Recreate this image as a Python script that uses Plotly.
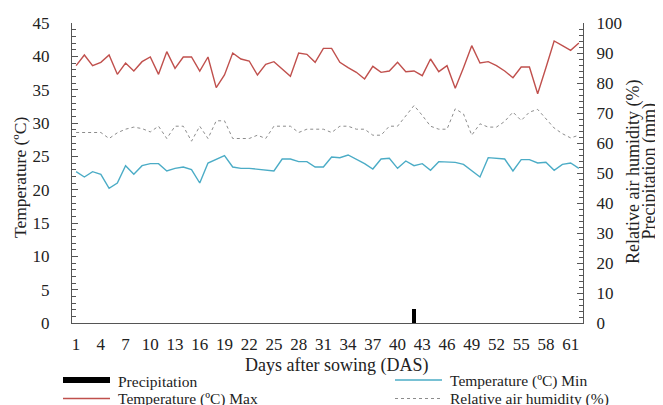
import plotly.graph_objects as go

days = list(range(1, 63))
temp_max = [38.6, 40.2, 38.6, 39.1, 40.2, 37.3, 39.0, 37.8, 39.2, 39.9,
            37.3, 40.7, 38.2, 39.9, 39.9, 37.8, 39.9, 35.3, 37.2, 40.5,
            39.6, 39.3, 37.2, 38.8, 39.2, 38.1, 37.0, 40.5, 40.3, 39.1,
            41.2, 41.2, 39.1, 38.3, 37.6, 36.6, 38.5, 37.6, 37.8, 39.1,
            37.7, 37.8, 37.1, 39.6, 37.7, 38.6, 35.2, 38.3, 41.6, 39.0,
            39.2, 38.6, 37.8, 36.8, 38.4, 38.4, 34.4, 38.3, 42.3, 41.6,
            40.9, 42.0]
temp_min = [22.7, 21.9, 22.7, 22.3, 20.2, 21.0, 23.6, 22.3, 23.6, 23.9,
            23.9, 22.8, 23.2, 23.4, 23.0, 21.0, 24.0, 24.6, 25.1, 23.4,
            23.2, 23.2, 23.1, 23.0, 22.8, 24.6, 24.6, 24.2, 24.2, 23.4,
            23.4, 24.9, 24.8, 25.2, 24.6, 23.9, 23.1, 24.6, 24.7, 23.2,
            24.3, 23.6, 23.9, 22.9, 24.2, 24.1, 24.1, 23.8, 22.9, 21.9,
            24.8, 24.7, 24.6, 22.8, 24.5, 24.5, 24.0, 24.1, 22.9, 23.8,
            24.0, 23.2]
humidity = [63.5, 63.5, 63.5, 63.5, 61.5, 63.4, 64.6, 65.3, 64.8, 63.7,
            65.6, 61.5, 65.6, 65.6, 60.6, 65.6, 61.5, 67.4, 67.4, 61.5,
            61.5, 61.5, 62.6, 61.5, 65.6, 65.6, 65.6, 63.5, 64.6, 64.6,
            64.6, 63.5, 65.6, 65.6, 64.6, 64.6, 62.6, 62.6, 65.6, 65.6,
            69.2, 72.5, 69.2, 65.6, 64.6, 64.6, 71.4, 69.7, 62.6, 66.4,
            65.3, 65.3, 67.2, 70.3, 67.5, 70.3, 71.2, 68.1, 65.0, 63.1,
            61.7, 62.6]
precip_days = [42]
precip_mm = [4.6]

x_ticks = list(range(1, 62, 3))

names = ["Precipitation", "Temperature (ºC) Min",
         "Temperature (ºC) Max", "Relative air humidity (%)"]

FONT = "Liberation Serif"
RED = "#C0504D"
CYAN = "#4BACC6"
GRAY = "#8C8C8C"
AXC = "#555555"
TXT = "#222222"

# the page body adds an 8px offset, so the figure is laid out 8px smaller
OFF = 8
W, H = 663 - OFF, 405 - OFF
ML, MT = 72 - OFF, 23 - OFF
MR = W - (583 - OFF)
MB = H - (323 - OFF)
PW, PH = W - ML - MR, H - MT - MB


def px(xp):
    return (xp - OFF - ML) / PW


def py(yp):
    return (H - MB - (yp - OFF)) / PH


fig = go.Figure()

fig.add_trace(go.Bar(x=precip_days, y=precip_mm, yaxis="y2", width=0.38,
                     marker=dict(color="black", line=dict(width=0)),
                     showlegend=False, name=names[0]))
fig.add_trace(go.Scatter(x=days, y=temp_min, mode="lines", name=names[1],
                         line=dict(color=CYAN, width=1.4), showlegend=False))
fig.add_trace(go.Scatter(x=days, y=temp_max, mode="lines", name=names[2],
                         line=dict(color=RED, width=1.4), showlegend=False))
fig.add_trace(go.Scatter(x=days, y=humidity, mode="lines", yaxis="y2",
                         name=names[3], showlegend=False,
                         line=dict(color=GRAY, width=1, dash="dot")))

# manual legend (two columns)
leg = [
    (63, 380, names[0], dict(color="black", width=6)),
    (395, 380, names[1], dict(color=CYAN, width=1.4)),
    (63, 398.5, names[2], dict(color=RED, width=1.4)),
    (395, 398.5, names[3], dict(color=GRAY, width=1, dash="dot")),
]
shapes = []
annotations = []
for x0, y0, txt, ln in leg:
    shapes.append(dict(type="line", xref="paper", yref="paper",
                       x0=px(x0), x1=px(x0 + 47), y0=py(y0), y1=py(y0), line=ln))
    annotations.append(dict(xref="paper", yref="paper", x=px(x0 + 53), y=py(y0 + 1),
                            text=txt, showarrow=False, xanchor="left", yanchor="middle",
                            font=dict(family=FONT, size=15.5, color=TXT)))

# axis titles
annotations.append(dict(xref="paper", yref="paper", x=px(336), y=py(365),
                        text="Days after sowing (DAS)", showarrow=False,
                        xanchor="center", yanchor="middle",
                        font=dict(family=FONT, size=18, color=TXT)))
annotations.append(dict(xref="paper", yref="paper", x=px(20), y=py(178),
                        text="Temperature (ºC)", showarrow=False, textangle=-90,
                        xanchor="center", yanchor="middle",
                        font=dict(family=FONT, size=17.5, color=TXT)))
annotations.append(dict(xref="paper", yref="paper", x=px(633), y=py(172),
                        text="Relative air humidity (%)", showarrow=False, textangle=-90,
                        xanchor="center", yanchor="middle",
                        font=dict(family=FONT, size=18, color=TXT)))
annotations.append(dict(xref="paper", yref="paper", x=px(648.5), y=py(172),
                        text="Precipitation (mm)", showarrow=False, textangle=-90,
                        xanchor="center", yanchor="middle",
                        font=dict(family=FONT, size=18, color=TXT)))

fig.update_layout(
    width=W, height=H,
    margin=dict(l=ML, r=MR, t=MT, b=MB, autoexpand=False),
    paper_bgcolor="white", plot_bgcolor="white",
    font=dict(family=FONT, size=17, color=TXT),
    showlegend=False,
    bargap=0,
    shapes=shapes,
    annotations=annotations,
    xaxis=dict(range=[0.5, 62.5], tickmode="array", tickvals=x_ticks,
               ticktext=[str(v) for v in x_ticks], automargin=False,
               showline=True, linecolor=AXC, linewidth=1, ticks="",
               showgrid=False, zeroline=False, ticklabelstandoff=6,
               tickfont=dict(size=17)),
    yaxis=dict(range=[0, 45], dtick=5, showline=True, linecolor=AXC, linewidth=1,
               ticks="inside", ticklen=6, tickcolor=AXC, automargin=False,
               minor=dict(dtick=1, ticks="inside", ticklen=4, tickcolor=AXC),
               showgrid=False, zeroline=False, ticklabelstandoff=18,
               tickfont=dict(size=17)),
    yaxis2=dict(range=[0, 100], dtick=10, overlaying="y", side="right",
                showline=True, linecolor=AXC, linewidth=1, automargin=False,
                ticks="inside", ticklen=6, tickcolor=AXC,
                minor=dict(dtick=2, ticks="inside", ticklen=4, tickcolor=AXC),
                showgrid=False, zeroline=False, ticklabelstandoff=9,
                tickfont=dict(size=17)),
)

fig.write_html("out.html")
